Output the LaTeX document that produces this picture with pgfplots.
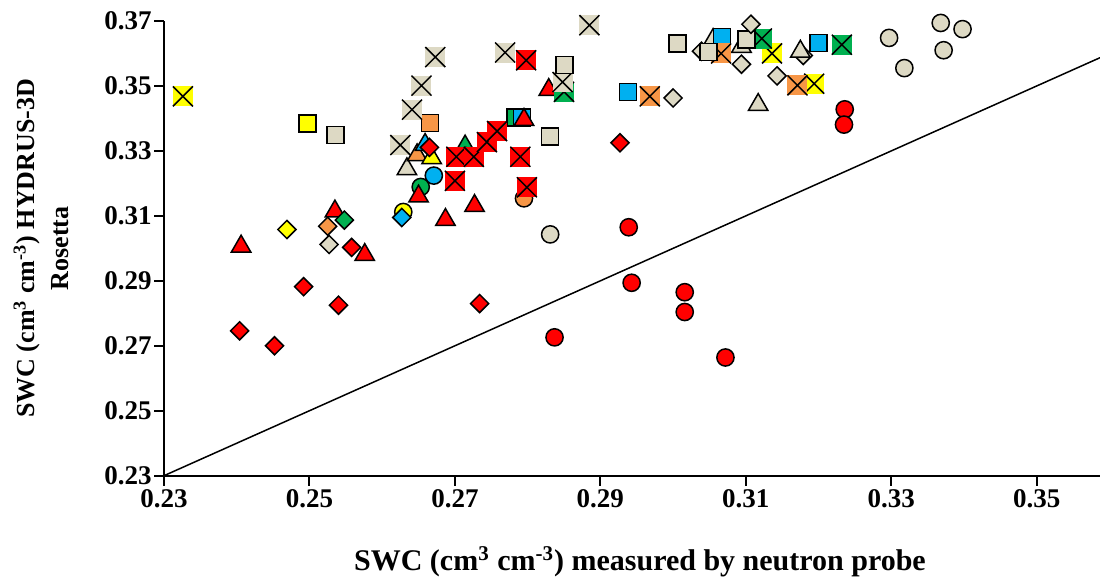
\documentclass[border=0pt]{standalone}
\usepackage{fontspec}
\setmainfont{Liberation Serif}
\usepackage{pgfplots}
\pgfplotsset{compat=1.18}
\definecolor{cred}{HTML}{FF0000}
\definecolor{cbeige}{HTML}{DDD9C4}
\definecolor{cyellow}{HTML}{FFFF00}
\definecolor{corange}{HTML}{F79646}
\definecolor{cblue}{HTML}{00B0F0}
\definecolor{cgreen}{HTML}{00B050}
\pgfdeclareplotmark{xsq}{%
  \pgfpathrectangle{\pgfqpoint{-\pgfplotmarksize}{-\pgfplotmarksize}}{\pgfqpoint{2\pgfplotmarksize}{2\pgfplotmarksize}}%
  \pgfusepathqfill
  \pgfpathmoveto{\pgfqpoint{-\pgfplotmarksize}{-\pgfplotmarksize}}%
  \pgfpathlineto{\pgfqpoint{\pgfplotmarksize}{\pgfplotmarksize}}%
  \pgfpathmoveto{\pgfqpoint{-\pgfplotmarksize}{\pgfplotmarksize}}%
  \pgfpathlineto{\pgfqpoint{\pgfplotmarksize}{-\pgfplotmarksize}}%
  \pgfusepathqstroke
}
\pgfplotsset{
 circ/.style={only marks, mark=*, mark size=4.3pt, mark options={draw=black, line width=0.75pt, fill=#1}},
 sq/.style={only marks, mark=square*, mark size=4.25pt, mark options={draw=black, line width=0.75pt, fill=#1}},
 tri/.style={only marks, mark=triangle*, mark size=5.6pt, mark options={draw=black, line width=0.75pt, fill=#1}},
 dia/.style={only marks, mark=square*, mark size=3.2pt, mark options={draw=black, line width=0.75pt, fill=#1, rotate=45}},
 xs/.style={only marks, mark=xsq, mark size=5pt, mark options={draw=black, line width=0.75pt, fill=#1}},
}
\begin{document}
\begin{tikzpicture}
\path[use as bounding box] (-82pt,-52.15pt) rectangle (468pt,237.85pt);
\begin{axis}[
 at={(0pt,0pt)}, anchor=south west,
 scale only axis, width=468pt, height=227.35pt,
 xmin=0.23, xmax=0.3587, ymin=0.23, ymax=0.37,
 axis x line*=bottom, axis y line*=left,
 xtick={0.23,0.25,0.27,0.29,0.31,0.33,0.35},
 ytick={0.23,0.25,0.27,0.29,0.31,0.33,0.35,0.37},
 tick align=outside, major tick length=5pt,
 tick style={black, line width=1pt},
 axis line style={black, line width=1pt},
 clip=false,
 /pgf/number format/assume math mode=true,
 /pgf/number format/fixed, /pgf/number format/fixed zerofill, /pgf/number format/precision=2,
 ticklabel style={font=\fontsize{13.5}{16}\selectfont\bfseries},
 yticklabel style={anchor=east, inner sep=0pt, xshift=-1pt},
 xticklabel style={anchor=north, inner sep=0pt, yshift=-1.5pt},
]
\addplot[black, line width=0.75pt] coordinates {(0.23,0.23) (0.3587,0.3587)};
% circles
\addplot[circ=cred] coordinates {(0.3236,0.3428) (0.3235,0.3381) (0.2939,0.3065) (0.2943,0.2894) (0.3016,0.2865) (0.3016,0.2804) (0.2837,0.2726) (0.3072,0.2664)};
\addplot[circ=cbeige] coordinates {(0.3297,0.3648) (0.3318,0.3555) (0.3368,0.3694) (0.3398,0.3675) (0.3372,0.3610) (0.2831,0.3043)};
\addplot[circ=cblue] coordinates {(0.2671,0.3224)};
\addplot[circ=cgreen] coordinates {(0.2653,0.3189)};
\addplot[circ=cyellow] coordinates {(0.2629,0.3112)};
\addplot[circ=corange] coordinates {(0.2795,0.3154)};
% diamonds behind
\addplot[dia=cbeige] coordinates {(0.3039,0.3607) (0.3179,0.3594)};
% triangles (non-red)
\addplot[tri=cbeige] coordinates {(0.2634,0.3244) (0.3055,0.3642) (0.3094,0.3621) (0.3175,0.3606) (0.3117,0.3442)};
\addplot[tri=corange] coordinates {(0.2648,0.3287)};
\addplot[tri=cyellow] coordinates {(0.2668,0.3278)};
\addplot[tri=cblue] coordinates {(0.2659,0.3319)};
\addplot[tri=cgreen] coordinates {(0.2714,0.3314)};
% squares
\addplot[sq=cyellow] coordinates {(0.2497,0.3385)};
\addplot[sq=corange] coordinates {(0.2666,0.3386)};
\addplot[sq=cgreen] coordinates {(0.2783,0.3403)};
\addplot[sq=cblue] coordinates {(0.2792,0.3403) (0.2938,0.3482) (0.3067,0.3651) (0.3200,0.3632)};
% red triangles
\addplot[tri=cred] coordinates {(0.2650,0.3160) (0.2829,0.3488) (0.2795,0.3396) (0.2727,0.3131) (0.2406,0.3006) (0.2535,0.3114) (0.2576,0.2980) (0.2687,0.3088)};
% crossed squares
\addplot[xs=cyellow] coordinates {(0.2326,0.3468) (0.3136,0.3600) (0.3194,0.3507)};
\addplot[xs=cred] coordinates {(0.2702,0.3282) (0.2726,0.3282) (0.2700,0.3208) (0.2744,0.3327) (0.2758,0.3361) (0.2790,0.3282) (0.2799,0.3188) (0.2798,0.3579)};
\addplot[xs=corange] coordinates {(0.2968,0.3468) (0.3066,0.3600) (0.3171,0.3502)};
\addplot[xs=cgreen] coordinates {(0.2850,0.3482) (0.3122,0.3646) (0.3232,0.3627)};
\addplot[xs=cbeige] coordinates {(0.2673,0.3589) (0.2654,0.3501) (0.2641,0.3427) (0.2625,0.3318) (0.2885,0.3687) (0.2769,0.3603) (0.2848,0.3512)};
% beige squares
\addplot[sq=cbeige] coordinates {(0.2536,0.3349) (0.2851,0.3564) (0.2831,0.3345) (0.3006,0.3630) (0.3049,0.3605) (0.3101,0.3643)};
% diamonds
\addplot[dia=cred] coordinates {(0.2665,0.3311) (0.2927,0.3325) (0.2558,0.3003) (0.2492,0.2882) (0.2540,0.2825) (0.2404,0.2746) (0.2452,0.2700) (0.2734,0.2830)};
\addplot[dia=cbeige] coordinates {(0.3000,0.3463) (0.3107,0.3690) (0.3094,0.3567) (0.3143,0.3531) (0.2527,0.3012)};
\addplot[dia=cyellow] coordinates {(0.2469,0.3058)};
\addplot[dia=corange] coordinates {(0.2525,0.3068)};
\addplot[dia=cgreen] coordinates {(0.2548,0.3087)};
\addplot[dia=cblue] coordinates {(0.2627,0.3095)};
\end{axis}
\node[rotate=90, align=center, font=\fontsize{13}{17}\selectfont\bfseries] at (-61.5pt,113.7pt)
  {SWC (cm\textsuperscript{3} cm\textsuperscript{-3}) HYDRUS-3D\\Rosetta};
\node[anchor=base, font=\fontsize{15}{17}\selectfont\bfseries] at (238pt,-47.5pt)
  {SWC (cm\textsuperscript{3} cm\textsuperscript{-3}) measured by neutron probe};
\end{tikzpicture}
\end{document}
